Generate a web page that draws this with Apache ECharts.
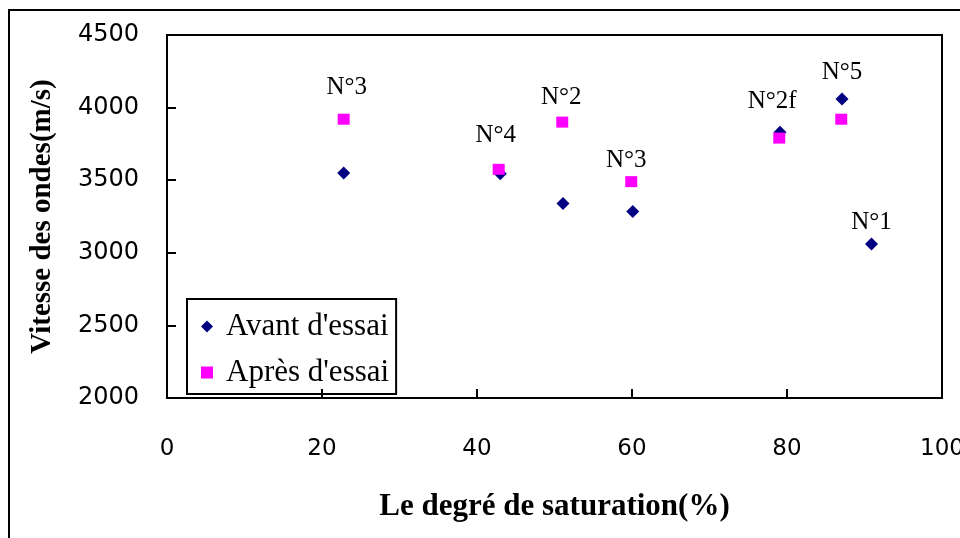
<!DOCTYPE html>
<html>
<head>
<meta charset="utf-8">
<script src="https://cdn.jsdelivr.net/npm/echarts@6/dist/echarts.min.js"></script>
<style>
html,body{margin:0;padding:0;background:#fff;}
#chart{width:960px;height:538px;}
</style>
</head>
<body>
<div id="chart"></div>
<script>
// ---- data ----
const seriesNames = ["Avant d'essai", "Après d'essai"];
const avantSat = [22.8, 43.0, 51.1, 60.1, 79.1, 87.1, 90.9];
const avantVit = [3550, 3545, 3340, 3285, 3830, 4060, 3060];
const apresSat = [22.8, 42.8, 51.0, 59.9, 79.0, 87.0];
const apresVit = [3920, 3575, 3900, 3490, 3790, 3920];
// sample labels: which series / index they belong to
const apresLabels = ["N°3", "N°4", "N°2", "N°3", "N°2f", null];
const avantLabels = [null, null, null, null, null, "N°5", "N°1"];
const xTicks = [0, 20, 40, 60, 80, 100];
const yTicks = [2000, 2500, 3000, 3500, 4000, 4500];

// label offsets (styling only)
const apresLabelOffset = [[3, -32], [-3, -34], [-1, -25], [-5, -21], [-7, -37], null];
const avantLabelOffset = [null, null, null, null, null, [0, -26], [0, -22]];

const labelFont = {fontFamily: 'Liberation Serif', fontSize: 25, color: '#000'};

function build(xs, ys, labels, offsets) {
  return xs.map((x, i) => {
    const item = {value: [x, ys[i]]};
    if (labels[i]) {
      item.label = Object.assign({
        show: true, formatter: labels[i], position: 'inside', offset: offsets[i]
      }, labelFont);
    }
    return item;
  });
}

const chart = echarts.init(document.getElementById('chart'), null, {renderer: 'canvas'});
chart.setOption({
  animation: false,
  backgroundColor: '#fff',
  graphic: [{
    type: 'rect', shape: {x: 9, y: 10, width: 1000, height: 600},
    style: {fill: 'none', stroke: '#000', lineWidth: 2}, z: -1
  }],
  grid: {left: 167, top: 35, right: 18, bottom: 140, show: true, borderColor: '#000', borderWidth: 2,
         backgroundColor: 'transparent', containLabel: false, outerBoundsMode: 'none'},
  xAxis: {
    type: 'value', min: xTicks[0], max: xTicks[xTicks.length - 1], interval: 20,
    name: 'Le degré de saturation(%)', nameLocation: 'middle', nameGap: 93,
    nameTextStyle: {fontFamily: 'Liberation Serif', fontWeight: 'bold', fontSize: 31, color: '#000'},
    axisLine: {show: true, lineStyle: {color: '#000', width: 2}},
    axisTick: {show: true, inside: true, length: 9, lineStyle: {color: '#000', width: 2}},
    axisLabel: {margin: 40, fontFamily: 'DejaVu Sans', fontSize: 23, color: '#000', formatter: v => String(v)},
    splitLine: {show: false}
  },
  yAxis: {
    type: 'value', min: yTicks[0], max: yTicks[yTicks.length - 1], interval: 500,
    name: 'Vitesse des ondes(m/s)', nameLocation: 'middle', nameGap: 110,
    nameTextStyle: {fontFamily: 'Liberation Serif', fontWeight: 'bold', fontSize: 29, color: '#000'},
    axisLine: {show: true, lineStyle: {color: '#000', width: 2}},
    axisTick: {show: true, inside: true, length: 9, lineStyle: {color: '#000', width: 2}},
    axisLabel: {margin: 28, fontFamily: 'DejaVu Sans', fontSize: 24, color: '#000', formatter: v => String(v)},
    splitLine: {show: false}
  },
  legend: {
    left: 187, top: 299, orient: 'vertical',
    borderColor: '#000', borderWidth: 2, borderRadius: 0,
    padding: [12, 7, 6, 14],
    itemWidth: 12, itemHeight: 12, itemGap: 15,
    textStyle: {fontFamily: 'Liberation Serif', fontSize: 31, color: '#000', padding: [0, 0, 0, 8], lineHeight: 30},
    data: [{name: seriesNames[0], icon: 'diamond'}, {name: seriesNames[1], icon: 'rect'}]
  },
  series: [
    {
      name: seriesNames[0], type: 'scatter', symbol: 'diamond', symbolSize: 13,
      itemStyle: {color: '#000080', opacity: 1}, z: 2,
      data: build(avantSat, avantVit, avantLabels, avantLabelOffset)
    },
    {
      name: seriesNames[1], type: 'scatter', symbol: 'rect', symbolSize: [12, 11],
      itemStyle: {color: '#FF00FF', opacity: 1}, z: 3,
      data: build(apresSat, apresVit, apresLabels, apresLabelOffset)
    }
  ]
});
</script>
</body>
</html>
